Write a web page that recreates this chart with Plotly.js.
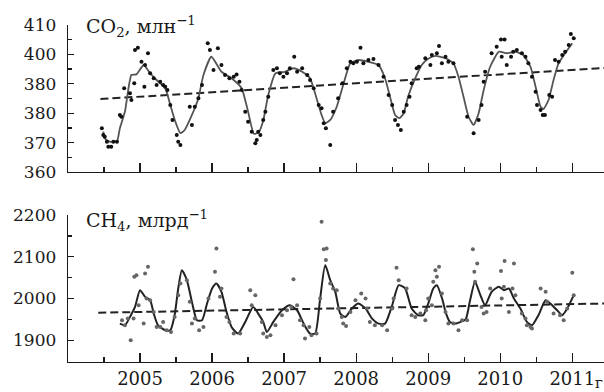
<!DOCTYPE html>
<html><head><meta charset="utf-8">
<script src="https://cdn.plot.ly/plotly-3.0.1.min.js"></script>
<style>html,body{margin:0;padding:0;background:#fff}#c{width:604px;height:392px}</style>
</head><body><div id="c"></div>
<script>
// CO2 smoothed curve
const co2CurveX = [2004.49,2004.51,2004.58,2004.68,2004.72,2004.79,2004.88,2004.95,2005.05,2005.14,2005.23,2005.35,2005.42,2005.49,2005.56,2005.62,2005.72,2005.81,2005.88,2005.99,2006.13,2006.27,2006.41,2006.50,2006.58,2006.65,2006.71,2006.78,2006.88,2007.01,2007.13,2007.25,2007.36,2007.45,2007.52,2007.57,2007.64,2007.73,2007.82,2007.92,2008.03,2008.17,2008.31,2008.40,2008.47,2008.54,2008.60,2008.66,2008.72,2008.82,2008.91,2009.00,2009.10,2009.24,2009.35,2009.42,2009.49,2009.56,2009.63,2009.70,2009.77,2009.86,2009.98,2010.09,2010.21,2010.32,2010.42,2010.49,2010.56,2010.60,2010.67,2010.74,2010.81,2010.90,2011.00];
const co2CurveY = [373.7,371.5,370.3,370.5,374.9,380.5,393,393.2,396.4,393.6,391.3,388.5,382.8,377.1,373.2,374.3,379.4,385.1,393,399.2,394.1,391.9,388.5,380.5,373.0,373.6,377.5,386.2,393.6,394.1,395.3,394.1,391.9,385.1,379.4,376.6,377.7,382.2,389.6,397,398.1,397.5,396.4,391.9,385.6,379.4,378.3,380,385.6,391.9,396.4,398.5,399.5,398.7,397,392.4,385.6,378.8,376,380,387.9,395.8,400.9,400.4,400.9,399.8,395.8,389,382.2,381.4,384.5,391.3,397,400.4,403.8];
// CO2 measurements
const co2PtsX = [2004.47,2004.49,2004.51,2004.54,2004.56,2004.60,2004.63,2004.68,2004.72,2004.74,2004.78,2004.86,2004.88,2004.92,2004.93,2004.97,2005.02,2005.06,2005.07,2005.11,2005.14,2005.19,2005.23,2005.28,2005.32,2005.35,2005.38,2005.42,2005.45,2005.51,2005.53,2005.56,2005.69,2005.72,2005.76,2005.81,2005.86,2005.94,2005.97,2006.02,2006.08,2006.13,2006.18,2006.24,2006.30,2006.34,2006.38,2006.41,2006.46,2006.50,2006.55,2006.60,2006.62,2006.64,2006.67,2006.71,2006.74,2006.78,2006.85,2006.90,2006.94,2006.99,2007.04,2007.08,2007.14,2007.18,2007.25,2007.32,2007.36,2007.41,2007.48,2007.52,2007.55,2007.58,2007.64,2007.68,2007.75,2007.81,2007.87,2007.92,2007.96,2008.01,2008.06,2008.10,2008.17,2008.24,2008.31,2008.38,2008.45,2008.50,2008.54,2008.58,2008.62,2008.66,2008.70,2008.74,2008.77,2008.84,2008.87,2008.96,2009.03,2009.05,2009.12,2009.15,2009.19,2009.24,2009.28,2009.35,2009.54,2009.63,2009.70,2009.74,2009.77,2009.79,2009.88,2009.95,2010.01,2010.06,2010.02,2010.09,2010.15,2010.18,2010.23,2010.30,2010.35,2010.39,2010.44,2010.49,2010.51,2010.56,2010.59,2010.62,2010.68,2010.72,2010.76,2010.81,2010.86,2010.90,2010.95,2010.98,2011.02];
const co2PtsY = [374.9,372.6,372,370.3,368.6,368.6,370.3,370.3,379.4,378.8,388.5,386.8,384.5,390.2,401.5,402.3,397.5,389,396.4,400.4,393.6,391.9,389.6,390.7,389.6,389,387.9,382.8,377.7,372.6,370.3,369.2,382.2,376,382.2,385.1,389.6,403.8,401.5,394.7,402.1,396.4,393,391.9,392.4,393.2,390.7,387.9,380.5,377.1,373.7,369.8,370.9,373.7,372.6,377.7,380.5,385.6,394.7,395.3,393.6,392.4,393.6,395.3,399.2,394.1,395.3,393,391.3,388.5,382.8,381.7,376.6,374.9,369.2,380.5,385.1,390.2,395.3,397.5,397,397.5,402.3,397,398.1,398.4,396.4,392.4,386.2,382.8,377.7,376,374.3,380.5,382.8,385.6,390.2,395.3,395.8,398.7,396.4,399.8,400.4,402.9,397,399.2,397.5,397,378.8,373.2,377.7,382.8,390.7,394.1,400.4,402.6,405.1,405.1,399.2,396.4,399.2,400.9,401.5,400.4,399.2,397,392.4,387.3,382.8,381.1,379.4,379.4,386.2,385.6,398.1,397.5,399.8,400.9,403.2,406.9,405.5];
const co2TrendX = [2004.45, 2011.44];
const co2TrendY = [384.8, 395.4];

// CH4 smoothed curve
const ch4CurveX = [2004.72,2004.79,2004.86,2004.93,2005.00,2005.07,2005.14,2005.19,2005.25,2005.35,2005.42,2005.48,2005.53,2005.58,2005.65,2005.72,2005.79,2005.86,2005.93,2006.00,2006.06,2006.13,2006.20,2006.27,2006.36,2006.46,2006.57,2006.64,2006.71,2006.76,2006.85,2006.97,2007.08,2007.18,2007.27,2007.36,2007.43,2007.50,2007.57,2007.64,2007.71,2007.78,2007.85,2007.94,2008.03,2008.13,2008.22,2008.31,2008.40,2008.50,2008.59,2008.68,2008.77,2008.86,2008.93,2009.00,2009.07,2009.12,2009.20,2009.24,2009.30,2009.38,2009.45,2009.52,2009.58,2009.65,2009.72,2009.79,2009.88,2009.98,2010.05,2010.12,2010.19,2010.28,2010.37,2010.44,2010.53,2010.63,2010.72,2010.81,2010.86,2010.93,2011.02];
const ch4CurveY = [1940,1936,1956,1980,2020,2004,1996,1964,1936,1924,1924,1960,2024,2068,2044,1992,1948,1948,1988,2024,2036,2016,1968,1932,1916,1944,1980,1964,1944,1920,1944,1972,1984,1972,1940,1916,1916,2000,2080,2044,2016,1964,1956,1976,1988,1976,1952,1940,1940,1984,2032,2024,1976,1960,1960,1988,2024,2032,1996,1968,1944,1940,1944,1950,1995,2040,2010,1984,2016,2028,2020,2024,2000,1976,1944,1936,1960,1996,1984,1968,1960,1976,2008];
// CH4 measurements
const ch4PtsX = [2004.75,2004.79,2004.83,2004.87,2004.91,2004.92,2004.95,2004.98,2005.05,2005.07,2005.09,2005.11,2005.14,2005.19,2005.23,2005.28,2005.32,2005.37,2005.43,2005.48,2005.53,2005.56,2005.65,2005.69,2005.72,2005.76,2005.82,2005.88,2005.95,2006.04,2006.06,2006.11,2006.13,2006.20,2006.24,2006.30,2006.39,2006.53,2006.55,2006.60,2006.69,2006.71,2006.76,2006.81,2006.88,2006.97,2007.04,2007.10,2007.13,2007.18,2007.22,2007.27,2007.29,2007.35,2007.38,2007.45,2007.50,2007.52,2007.55,2007.58,2007.59,2007.64,2007.68,2007.73,2007.75,2007.80,2007.82,2007.86,2007.92,2007.99,2008.07,2008.13,2008.15,2008.19,2008.26,2008.36,2008.43,2008.50,2008.52,2008.56,2008.59,2008.70,2008.77,2008.82,2008.89,2008.96,2008.97,2009.00,2009.05,2009.07,2009.10,2009.12,2009.15,2009.19,2009.24,2009.28,2009.35,2009.42,2009.47,2009.54,2009.62,2009.64,2009.65,2009.68,2009.74,2009.77,2009.81,2009.86,2010.01,2010.02,2010.05,2010.06,2010.12,2010.17,2010.19,2010.21,2010.30,2010.35,2010.37,2010.42,2010.44,2010.56,2010.63,2010.65,2010.74,2010.83,2010.88,2010.93,2011.00,2011.02];
const ch4PtsY = [1948,1936,1952,1900,1952,2052,2056,1984,1940,2060,2000,2076,1996,1968,1932,1932,1944,1924,1920,1956,2008,2036,2044,1992,1940,1952,1924,1932,2000,2064,2120,2004,2024,1956,1944,1916,1916,2020,1984,2008,1944,1916,1908,1912,1936,1960,1972,1980,2046,1984,1948,1936,1904,1932,1912,1916,2000,2184,2118,2092,2120,2036,2024,2020,1976,1956,1940,1934,1968,1996,2012,2000,1976,1944,1936,1936,1924,1976,2000,2074,2044,2024,1960,1956,1964,1948,1972,2000,1984,2040,2068,2052,2076,2012,1968,1940,1940,1924,1948,1948,2118,2064,2040,2084,1980,1964,1968,2024,2066,2000,2028,2090,1968,2024,2084,2008,1964,1952,1936,1932,1928,2024,2016,1992,1964,1960,1948,1976,2062,2008];
const ch4TrendX = [2004.42, 2011.44];
const ch4TrendY = [1966, 1988];

const yearTicks = [2005,2006,2007,2008,2009,2010,2011];
const yearLabels = ['2005','2006','2007','2008','2009','2010','2011'];
const co2Ticks = [360,370,380,390,400,410];
const co2Labels = ['360','370','380','380','400','410'];
const ch4Ticks = [1900,2000,2100,2200];
const ch4Labels = ['1900','2000','2100','2200'];

const FONT = 'DejaVu Serif, Liberation Serif, serif';
const INK = '#1a1a1a';

const traces = [
  {x: co2TrendX, y: co2TrendY, xaxis:'x', yaxis:'y', mode:'lines', line:{color:'#222', width:2, dash:'8px,4px'}, hoverinfo:'skip'},
  {x: co2CurveX, y: co2CurveY, xaxis:'x', yaxis:'y', mode:'lines', line:{color:'#555', width:1.8, shape:'spline', smoothing:0.5}},
  {x: co2PtsX, y: co2PtsY, xaxis:'x', yaxis:'y', mode:'markers', marker:{color:'#111', size:4}},
  {x: ch4TrendX, y: ch4TrendY, xaxis:'x2', yaxis:'y2', mode:'lines', line:{color:'#222', width:2, dash:'8px,4px'}, hoverinfo:'skip'},
  {x: ch4CurveX, y: ch4CurveY, xaxis:'x2', yaxis:'y2', mode:'lines', line:{color:'#222', width:2, shape:'spline', smoothing:0.6}},
  {x: ch4PtsX, y: ch4PtsY, xaxis:'x2', yaxis:'y2', mode:'markers', marker:{color:'#666', size:4}}
];

const xCommon = {
  range:[2004.0, 2011.44], showline:true, linecolor:INK, linewidth:1.3, showgrid:false, zeroline:false,
  tickvals: yearTicks, ticktext: yearLabels, ticks:'inside', ticklen:9, tickwidth:1.3, tickcolor:INK,
  minor:{dtick:0.5, tick0:2004.5, ticks:'inside', ticklen:5, tickwidth:1.3, tickcolor:INK, showgrid:false},
  tickfont:{family:FONT, size:18, color:INK}, automargin:false, fixedrange:true
};
const yCommon = {
  showline:true, linecolor:INK, linewidth:1.3, showgrid:false, zeroline:false,
  ticks:'inside', ticklen:6, tickwidth:1.3, tickcolor:INK,
  tickfont:{family:FONT, size:17, color:INK}, automargin:false, ticklabelstandoff:7
};

const layout = {
  width:604, height:392, margin:{l:68, r:0, t:0, b:0},
  paper_bgcolor:'#fff', plot_bgcolor:'#fff', showlegend:false,
  xaxis: Object.assign({}, xCommon, {domain:[0,1], anchor:'y', showticklabels:false}),
  yaxis: Object.assign({}, yCommon, {domain:[0.5612,0.9362], anchor:'x', range:[360,410], tickvals:co2Ticks, ticktext:co2Labels,
          minor:{dtick:5, tick0:360, ticks:'inside', ticklen:4, tickwidth:1.3, tickcolor:INK, showgrid:false}}),
  xaxis2: Object.assign({}, xCommon, {domain:[0,1], anchor:'y2', showticklabels:true}),
  yaxis2: Object.assign({}, yCommon, {domain:[0.0765,0.4515], anchor:'x2', range:[1848,2200], tickvals:ch4Ticks, ticktext:ch4Labels,
          minor:{dtick:50, tick0:1850, ticks:'inside', ticklen:4, tickwidth:1.3, tickcolor:INK, showgrid:false}}),
  annotations:[
    {xref:'paper', yref:'paper', x:0.030, y:0.932, xanchor:'left', yanchor:'middle', showarrow:false,
     text:'CO<sub>2</sub>, млн<sup>−1</sup>', font:{family:FONT, size:19, color:INK}},
    {xref:'paper', yref:'paper', x:0.030, y:0.437, xanchor:'left', yanchor:'middle', showarrow:false,
     text:'CH<sub>4</sub>, млрд<sup>−1</sup>', font:{family:FONT, size:19, color:INK}},
    {xref:'paper', yref:'paper', x:0.979, y:0.023, xanchor:'left', yanchor:'middle', showarrow:false,
     text:'г', font:{family:FONT, size:15, color:INK}}
  ]
};

Plotly.newPlot('c', traces, layout, {displayModeBar:false, staticPlot:true});
</script>
</body></html>
